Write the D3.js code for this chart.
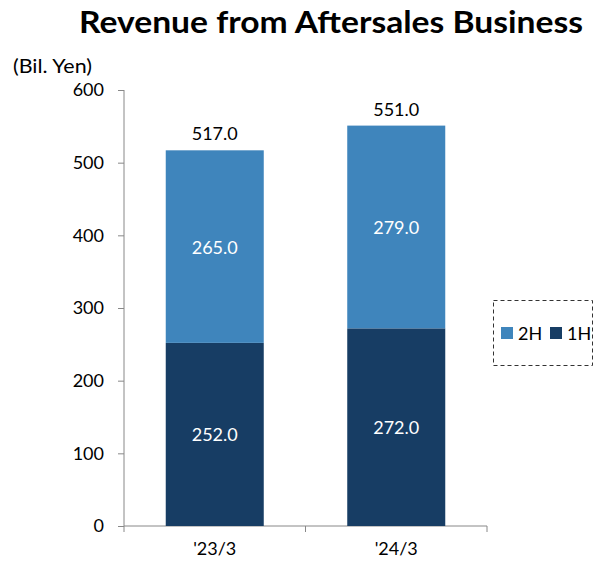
<!DOCTYPE html>
<html>
<head>
<meta charset="utf-8">
<script src="https://cdn.jsdelivr.net/npm/d3@7"></script>
<style>
  body { margin: 0; background: #fff; }
  text { font-family: Lato, "Open Sans", sans-serif; }
</style>
</head>
<body>
<div id="chart"></div>
<script>
var width = 603;
var height = 562;

var categories = ["'23/3", "'24/3"];
var firstHalf = [252.0, 272.0];
var secondHalf = [265.0, 279.0];
var totals = [517.0, 551.0];
var yTicks = [0, 100, 200, 300, 400, 500, 600];

var colors = { "1H": "#173d64", "2H": "#3f85bc" };

var svg = d3.select("#chart")
    .append("svg")
      .attr("width", width)
      .attr("height", height)
      .style("background-color", "#ffffff");

// title
svg.append("text")
    .attr("x", 331)
    .attr("y", 33)
    .attr("text-anchor", "middle")
    .attr("font-size", 31)
    .attr("font-weight", "bold")
    .attr("textLength", 504)
    .attr("lengthAdjust", "spacingAndGlyphs")
    .text("Revenue from Aftersales Business");

svg.append("text")
    .attr("x", 13)
    .attr("y", 73)
    .attr("font-size", 19)
    .attr("textLength", 79)
    .attr("lengthAdjust", "spacingAndGlyphs")
    .text("(Bil. Yen)");

var x = d3.scaleBand()
    .domain(categories)
    .range([124, 487])
    .paddingInner(0.46)
    .paddingOuter(0.23);

var y = d3.scaleLinear()
    .domain([0, 600])
    .range([526, 90]);

var data = categories.map(function(c, i) {
  return { cat: c, h1: firstHalf[i], h2: secondHalf[i], total: totals[i] };
});

// y axis
var yAxis = svg.append("g")
    .attr("transform", "translate(124,0)")
    .call(d3.axisLeft(y).tickValues(yTicks).tickSize(6).tickPadding(14));
yAxis.selectAll("text").attr("font-size", 18).attr("fill", "#000").style("font-family", "Lato, 'Open Sans', sans-serif");
yAxis.selectAll("line").attr("stroke", "#888");
yAxis.select(".domain").attr("stroke", "#888").attr("d", "M0,90V526");

// x axis with ticks at category boundaries
var xAxisG = svg.append("g").attr("transform", "translate(0,526)");
xAxisG.append("line").attr("x1", 124).attr("x2", 487).attr("stroke", "#888");
var bounds = [124, (x(categories[0]) + x.bandwidth() + x(categories[1])) / 2, 487];
xAxisG.selectAll(".tk").data(bounds).join("line")
    .attr("x1", function(d) { return d; })
    .attr("x2", function(d) { return d; })
    .attr("y1", 0).attr("y2", 6)
    .attr("stroke", "#888");
xAxisG.selectAll(".lbl").data(categories).join("text")
    .attr("x", function(d) { return x(d) + x.bandwidth() / 2; })
    .attr("y", 29)
    .attr("text-anchor", "middle")
    .attr("font-size", 18)
    .text(function(d) { return d; });

// bars
var g = svg.append("g");
g.selectAll(".b1").data(data).join("rect")
    .attr("x", function(d) { return x(d.cat); })
    .attr("width", x.bandwidth())
    .attr("y", function(d) { return y(d.h1); })
    .attr("height", function(d) { return y(0) - y(d.h1); })
    .attr("fill", colors["1H"]);
g.selectAll(".b2").data(data).join("rect")
    .attr("x", function(d) { return x(d.cat); })
    .attr("width", x.bandwidth())
    .attr("y", function(d) { return y(d.h1 + d.h2); })
    .attr("height", function(d) { return y(d.h1) - y(d.h1 + d.h2); })
    .attr("fill", colors["2H"]);

// labels
g.selectAll(".l1").data(data).join("text")
    .attr("x", function(d) { return x(d.cat) + x.bandwidth() / 2; })
    .attr("y", function(d) { return y(d.h1 / 2) + 7; })
    .attr("text-anchor", "middle")
    .attr("font-size", 18)
    .attr("fill", "#fff")
    .text(function(d) { return d.h1.toFixed(1); });
g.selectAll(".l2").data(data).join("text")
    .attr("x", function(d) { return x(d.cat) + x.bandwidth() / 2; })
    .attr("y", function(d) { return y(d.h1 + d.h2 / 2) + 7; })
    .attr("text-anchor", "middle")
    .attr("font-size", 18)
    .attr("fill", "#fff")
    .text(function(d) { return d.h2.toFixed(1); });
g.selectAll(".lt").data(data).join("text")
    .attr("x", function(d) { return x(d.cat) + x.bandwidth() / 2; })
    .attr("y", function(d) { return y(d.total) - 10; })
    .attr("text-anchor", "middle")
    .attr("font-size", 18)
    .attr("fill", "#000")
    .text(function(d) { return d.total.toFixed(1); });

// legend
var leg = svg.append("g");
leg.append("rect")
    .attr("x", 493.5).attr("y", 300.5)
    .attr("width", 99).attr("height", 65)
    .attr("fill", "none")
    .attr("stroke", "#333")
    .attr("stroke-dasharray", "4,3");
var legItems = [{ k: "2H", x: 501 }, { k: "1H", x: 550 }];
leg.selectAll(".sw").data(legItems).join("rect")
    .attr("x", function(d) { return d.x; })
    .attr("y", 327)
    .attr("width", 12).attr("height", 12)
    .attr("fill", function(d) { return colors[d.k]; });
leg.selectAll(".lt").data(legItems).join("text")
    .attr("x", function(d) { return d.x + 17; })
    .attr("y", 340)
    .attr("font-size", 18)
    .text(function(d) { return d.k; });
</script>
</body>
</html>
